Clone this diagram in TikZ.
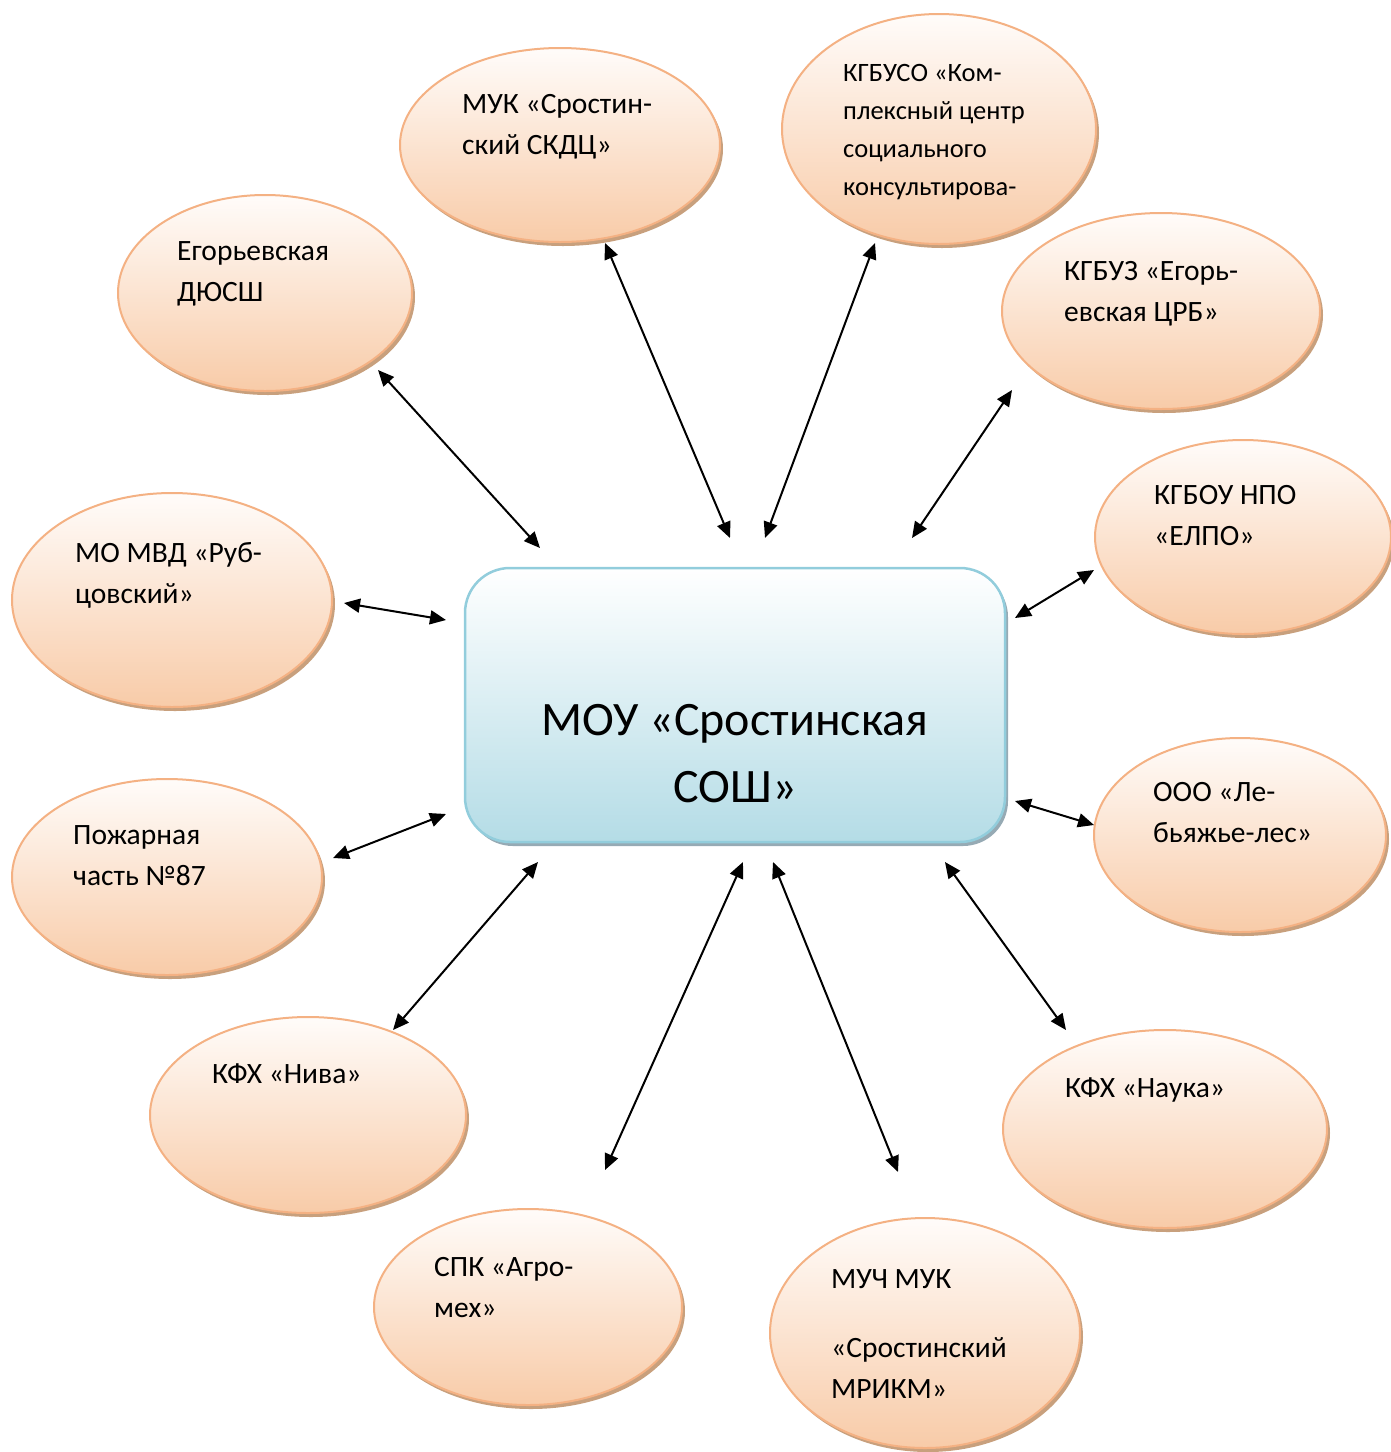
\documentclass[tikz,border=0pt]{standalone}
\usepackage{fontspec}
\setmainfont{Carlito}
\usetikzlibrary{shapes.geometric,arrows.meta,shadows}
\definecolor{ellTop}{RGB}{255,252,250}
\definecolor{ellBot}{RGB}{248,203,168}
\definecolor{ellLine}{RGB}{244,177,131}
\definecolor{ellShadow}{RGB}{200,160,125}
\definecolor{boxTop}{RGB}{255,255,255}
\definecolor{boxBot}{RGB}{180,220,230}
\definecolor{boxLine}{RGB}{146,205,220}
\definecolor{boxShadow}{RGB}{150,170,180}
\tikzset{
  ell/.style={ellipse, draw=ellLine, line width=2pt, top color=ellTop, bottom color=ellBot,
    inner sep=0pt, drop shadow={shadow xshift=3pt, shadow yshift=-4pt, opacity=1, fill=ellShadow}},
  cbox/.style={rectangle, rounded corners=45pt, draw=boxLine, line width=2.5pt, top color=boxTop,
    bottom color=boxBot, inner sep=0pt, drop shadow={shadow xshift=3pt, shadow yshift=-4pt, opacity=1, fill=boxShadow}},
  lbl/.style={anchor=base west, inner sep=0pt, align=left, font=\fontsize{29.5}{41}\selectfont},
  arr/.style={{Triangle[length=16pt,width=14pt]}-{Triangle[length=16pt,width=14pt]}, line width=2pt, black}
}
\begin{document}
\begin{tikzpicture}[x=1pt,y=-1pt]
\useasboundingbox (0,0) rectangle (1391,1452);
% ellipses
\node[ell, minimum width=294, minimum height=196] (e1) at (265,293) {};
\node[ell, minimum width=320, minimum height=194] (e2) at (560,145) {};
\node[ell, minimum width=314, minimum height=230] (e3) at (939,129) {};
\node[ell, minimum width=318, minimum height=196] (e4) at (1161,311) {};
\node[ell, minimum width=296, minimum height=194] (e5) at (1243,537) {};
\node[ell, minimum width=320, minimum height=214] (e6) at (172,600) {};
\node[ell, minimum width=310, minimum height=196] (e7) at (167,877) {};
\node[ell, minimum width=292, minimum height=194] (e8) at (1240,835) {};
\node[ell, minimum width=316, minimum height=196] (e9) at (308,1115) {};
\node[ell, minimum width=324, minimum height=198] (e10) at (1165,1129) {};
\node[ell, minimum width=308, minimum height=196] (e11) at (528,1307) {};
\node[ell, minimum width=310, minimum height=230] (e12) at (925,1333) {};
% centre
\node[cbox, minimum width=540, minimum height=274] (c) at (735,705) {};
\node[anchor=base, inner sep=0pt, align=center, font=\fontsize{48}{67}\selectfont] (ct) at (735,802) {МОУ «Сростинская\\СОШ»};
% labels (anchor = baseline of last line)
\node[lbl] (t1) at (177,301) {Егорьевская\\ДЮСШ};
\node[lbl] (t2) at (462,154) {МУК «Сростин-\\ский СКДЦ»};
\node[lbl, font=\fontsize{26.5}{38}\selectfont] (t3) at (843,195) {КГБУСО «Ком-\\плексный центр\\социального\\консультирова-};
\node[lbl] (t4) at (1064,321) {КГБУЗ «Егорь-\\евская ЦРБ»};
\node[lbl] (t5) at (1154,545) {КГБОУ НПО\\«ЕЛПО»};
\node[lbl] (t6) at (75,603) {МО МВД «Руб-\\цовский»};
\node[lbl] (t7) at (73,885) {Пожарная\\часть №87};
\node[lbl] (t8) at (1153,842) {ООО «Ле-\\бьяжье-лес»};
\node[lbl] (t9) at (212,1083) {КФХ «Нива»};
\node[lbl] (t10) at (1065,1097) {КФХ «Наука»};
\node[lbl] (t11) at (434,1317) {СПК «Агро-\\мех»};
\node[lbl] (t12) at (831,1398) {МУЧ МУК\\[28pt]«Сростинский\\МРИКМ»};
% arrow ends
\coordinate (a1s) at (378,370);  \coordinate (a1e) at (540,548);
\coordinate (a2s) at (605,243);  \coordinate (a2e) at (730,538);
\coordinate (a3s) at (875,243);  \coordinate (a3e) at (765,538);
\coordinate (a4s) at (1012,390); \coordinate (a4e) at (912,538);
\coordinate (a5s) at (1094,570); \coordinate (a5e) at (1015,618);
\coordinate (a6s) at (344,603);  \coordinate (a6e) at (446,620);
\coordinate (a7s) at (333,858);  \coordinate (a7e) at (446,814);
\coordinate (a8s) at (1094,825); \coordinate (a8e) at (1015,801);
\coordinate (a9s) at (393,1030); \coordinate (a9e) at (538,862);
\coordinate (a10s) at (605,1170); \coordinate (a10e) at (743,862);
\coordinate (a11s) at (898,1172); \coordinate (a11e) at (773,862);
\coordinate (a12s) at (1066,1030); \coordinate (a12e) at (945,862);
\foreach \i in {1,...,12} {\draw[arr] (a\i s) -- (a\i e);}
\end{tikzpicture}
\end{document}
